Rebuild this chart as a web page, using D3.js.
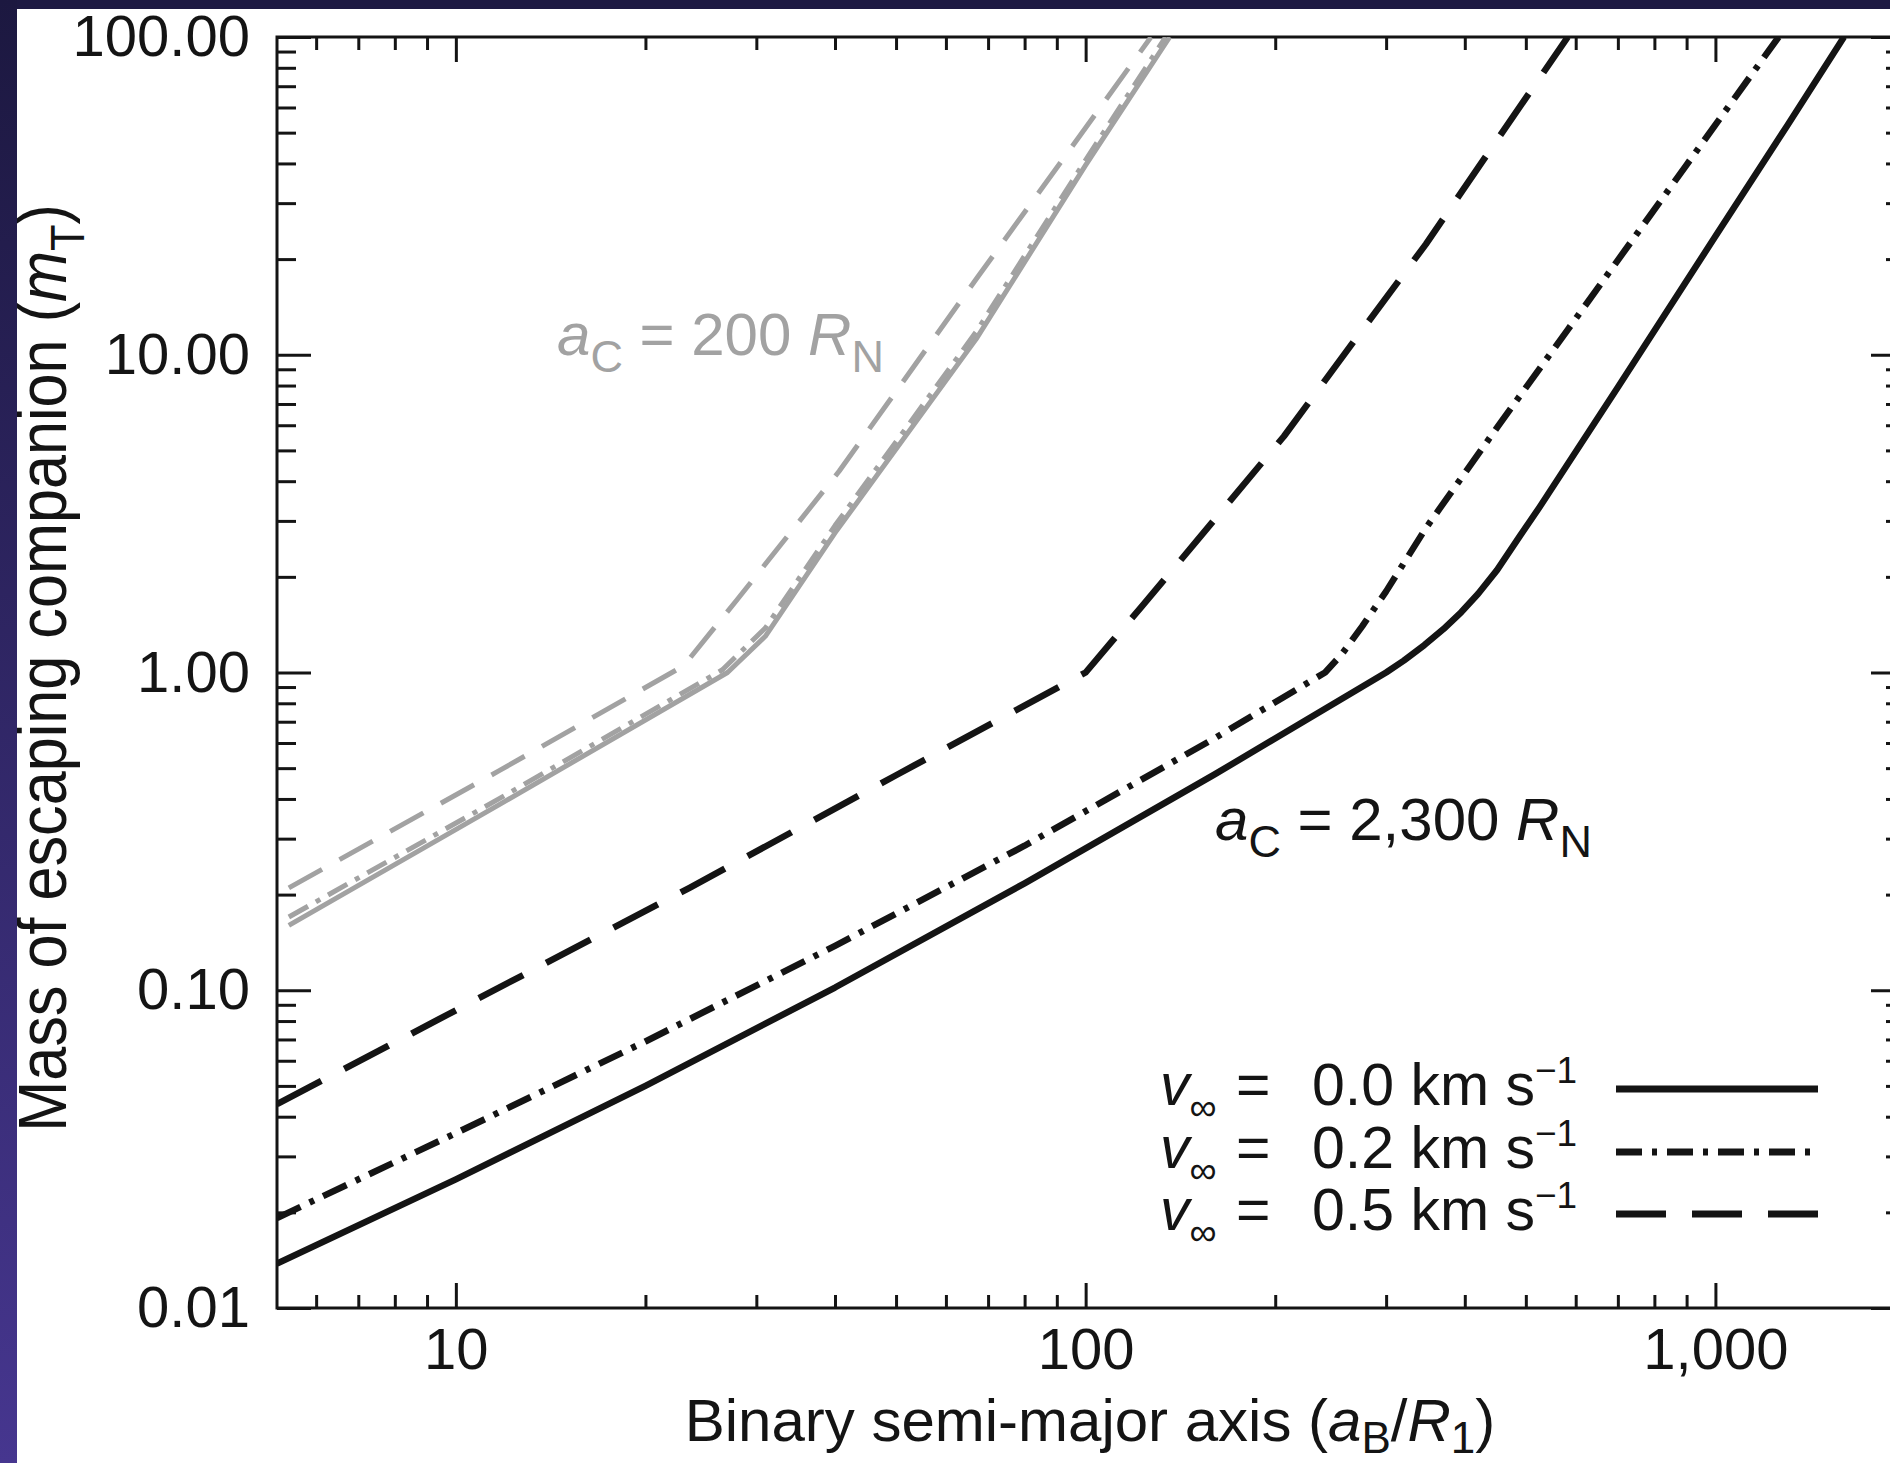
<!DOCTYPE html>
<html>
<head>
<meta charset="utf-8">
<script src="https://cdn.jsdelivr.net/npm/d3@7"></script>
<style>
  body { margin: 0; background: #ffffff; }
  svg { display: block; }
</style>
</head>
<body>
<div id="chart"></div>
<script>
// Axis ticks and labels
const xMajor = [10, 100, 1000];
const xMajorLabels = ["10", "100", "1,000"];
const xMinor = [6, 7, 8, 9, 20, 30, 40, 50, 60, 70, 80, 90, 200, 300, 400, 500, 600, 700, 800, 900, 2000];
const yMajor = [0.01, 0.1, 1, 10, 100];
const yMajorLabels = ["0.01", "0.10", "1.00", "10.00", "100.00"];
const yMinor = [0.02, 0.03, 0.04, 0.05, 0.06, 0.07, 0.08, 0.09, 0.2, 0.3, 0.4, 0.5, 0.6, 0.7, 0.8, 0.9,
                2, 3, 4, 5, 6, 7, 8, 9, 20, 30, 40, 50, 60, 70, 80, 90];

// a_C = 2,300 R_N curves: [a_B/R_1, m_T]
const v00Wide = [[5.2, 0.0138], [10, 0.0254], [20, 0.050], [40, 0.102], [80, 0.217], [160, 0.477],
                 [300, 1.0], [320, 1.09], [345, 1.22], [370, 1.37], [395, 1.55], [420, 1.77], [450, 2.1],
                 [490, 2.7], [525, 3.3], [700, 7.9], [1000, 23.6], [1300, 52.6], [1600, 100]];
const v02Wide = [[5.2, 0.0192], [10, 0.0355], [20, 0.069], [40, 0.138], [80, 0.285], [160, 0.62],
                 [240, 1.0], [255, 1.14], [275, 1.4], [300, 1.8], [347, 2.85], [450, 5.9], [583, 12],
                 [900, 39.6], [1260, 100]];
const v05Wide = [[5.2, 0.0438], [10, 0.0865], [23.5, 0.21], [50, 0.475], [100, 1.0], [110, 1.25],
                 [123, 1.62], [150, 2.59], [206.5, 5.54], [270, 11.4], [347, 22.3], [450, 47.4], [583, 100]];

// a_C = 200 R_N curves
const v00Close = [[5.43, 0.16], [11.7, 0.383], [27, 1.0], [31, 1.3], [40, 2.75], [67, 11.2], [100, 39.5], [136, 100]];
const v02Close = [[5.43, 0.17], [11.7, 0.40], [26.5, 1.02], [31, 1.38], [40, 2.9], [67, 11.8], [100, 41], [134, 100]];
const v05Close = [[5.43, 0.21], [11.7, 0.49], [23, 1.05], [28, 1.7], [40.6, 4.3], [67.3, 17.5], [95, 45], [127, 100]];

const legendSpeeds = ["0.0", "0.2", "0.5"];

const font = "'Liberation Sans', Arial, Helvetica, sans-serif";
const ink = "#141414";
const grey = "#a2a2a2";

const width = 1890, height = 1463;
const plot = { left: 277, right: 1905, top: 37, bottom: 1308 };

const svg = d3.select("#chart")
    .append("svg")
    .attr("width", width)
    .attr("height", height);

svg.append("rect")
    .attr("width", width)
    .attr("height", height)
    .attr("fill", "#ffffff");

// Scales
const x = d3.scaleLog()
    .domain([5.2, 2000])
    .range([plot.left, plot.right]);
const y = d3.scaleLog()
    .domain([0.01, 100])
    .range([plot.bottom, plot.top]);

svg.append("clipPath")
    .attr("id", "plot-clip")
    .append("rect")
    .attr("x", plot.left)
    .attr("y", plot.top)
    .attr("width", plot.right - plot.left)
    .attr("height", plot.bottom - plot.top);

// Helper for inward ticks
function addAxis(axis, transform, labels) {
    const g = svg.append("g")
        .attr("transform", transform)
        .call(axis);
    g.select(".domain").remove();
    g.selectAll("line").attr("stroke", ink).attr("stroke-width", 3);
    g.attr("font-family", font).attr("font-size", 58);
    g.selectAll("text").attr("fill", ink);
    if (!labels) g.selectAll("text").remove();
    return g;
}

// Left axis
addAxis(d3.axisLeft(y).tickValues(yMajor).tickSize(-34).tickPadding(27)
    .tickFormat((d, i) => yMajorLabels[i]), `translate(${plot.left},0)`, true);
addAxis(d3.axisLeft(y).tickValues(yMinor).tickSize(-19), `translate(${plot.left},0)`, false);
// Right axis
addAxis(d3.axisRight(y).tickValues(yMajor).tickSize(-34), `translate(${plot.right},0)`, false);
addAxis(d3.axisRight(y).tickValues(yMinor).tickSize(-19), `translate(${plot.right},0)`, false);
// Bottom axis
addAxis(d3.axisBottom(x).tickValues(xMajor).tickSize(-25).tickPadding(20)
    .tickFormat((d, i) => xMajorLabels[i]), `translate(0,${plot.bottom})`, true);
addAxis(d3.axisBottom(x).tickValues(xMinor).tickSize(-13), `translate(0,${plot.bottom})`, false);
// Top axis
addAxis(d3.axisTop(x).tickValues(xMajor).tickSize(-25), `translate(0,${plot.top})`, false);
addAxis(d3.axisTop(x).tickValues(xMinor).tickSize(-13), `translate(0,${plot.top})`, false);

// Frame
svg.append("rect")
    .attr("x", plot.left)
    .attr("y", plot.top)
    .attr("width", plot.right - plot.left)
    .attr("height", plot.bottom - plot.top)
    .attr("fill", "none")
    .attr("stroke", ink)
    .attr("stroke-width", 3);

// Lines
const line = d3.line()
    .x(d => x(d[0]))
    .y(d => y(d[1]));

const curves = [
    { data: v00Close, color: grey, width: 5, dash: null },
    { data: v02Close, color: grey, width: 5, dash: "22,9,5,9" },
    { data: v05Close, color: grey, width: 5, dash: "38,20" },
    { data: v00Wide, color: ink, width: 6.5, dash: null },
    { data: v02Wide, color: ink, width: 6.5, dash: "26,10,5,10" },
    { data: v05Wide, color: ink, width: 6.5, dash: "50,26" }
];

const curveGroup = svg.append("g").attr("clip-path", "url(#plot-clip)");
curves.forEach(c => {
    curveGroup.append("path")
        .datum(c.data)
        .attr("fill", "none")
        .attr("stroke", c.color)
        .attr("stroke-width", c.width)
        .attr("stroke-linejoin", "round")
        .attr("stroke-dasharray", c.dash)
        .attr("d", line);
});

// Curve annotations
function annotate(xPos, yPos, value, color) {
    const t = svg.append("text")
        .attr("x", xPos)
        .attr("y", yPos)
        .attr("font-family", font)
        .attr("font-size", 60)
        .attr("fill", color);
    t.append("tspan").attr("font-style", "italic").text("a");
    t.append("tspan").attr("font-size", 45).attr("dy", 17).text("C");
    t.append("tspan").attr("dy", -17).text(` = ${value} `);
    t.append("tspan").attr("font-style", "italic").text("R");
    t.append("tspan").attr("font-size", 45).attr("dy", 17).text("N");
}
annotate(557, 355, "200", grey);
annotate(1215, 840, "2,300", ink);

// Legend
const legendBase = [1105, 1168, 1230];
legendSpeeds.forEach((s, i) => {
    const t = svg.append("text")
        .attr("x", 1160)
        .attr("y", legendBase[i])
        .attr("font-family", font)
        .attr("font-size", 59)
        .attr("fill", ink);
    t.append("tspan").attr("font-style", "italic").text("v");
    t.append("tspan").attr("font-size", 38).attr("dy", 15).text("∞");
    t.append("tspan").attr("x", 1236).attr("dy", -15).text("=");
    t.append("tspan").attr("x", 1312).text(`${s} km s`);
    t.append("tspan").attr("font-size", 37).attr("dy", -22).text("−1");

    svg.append("line")
        .attr("x1", 1616)
        .attr("x2", 1818)
        .attr("y1", legendBase[i] - 16)
        .attr("y2", legendBase[i] - 16)
        .attr("stroke", ink)
        .attr("stroke-width", 7)
        .attr("stroke-dasharray", curves[3 + i].dash);
});

// X axis title
const xTitle = svg.append("text")
    .attr("x", 1090)
    .attr("y", 1441)
    .attr("text-anchor", "middle")
    .attr("font-family", font)
    .attr("font-size", 60)
    .attr("fill", ink);
xTitle.append("tspan").text("Binary semi-major axis (");
xTitle.append("tspan").attr("font-style", "italic").text("a");
xTitle.append("tspan").attr("font-size", 44).attr("dy", 12).text("B");
xTitle.append("tspan").attr("dy", -12).text("/");
xTitle.append("tspan").attr("font-style", "italic").text("R");
xTitle.append("tspan").attr("font-size", 44).attr("dy", 12).text("1");
xTitle.append("tspan").attr("dy", -12).text(")");

// Y axis title
const yTitle = svg.append("text")
    .attr("transform", "translate(66,668) rotate(-90) scale(0.9,1)")
    .attr("text-anchor", "middle")
    .attr("font-family", font)
    .attr("font-size", 68)
    .attr("fill", ink);
yTitle.append("tspan").text("Mass of escaping companion (");
yTitle.append("tspan").attr("font-style", "italic").text("m");
yTitle.append("tspan").attr("font-size", 48).attr("dy", 18).text("T");
yTitle.append("tspan").attr("dy", -18).text(")");

// Dark slide border on top and left
const grad = svg.append("defs").append("linearGradient")
    .attr("id", "band")
    .attr("x1", 0).attr("y1", 0).attr("x2", 0).attr("y2", 1);
grad.append("stop").attr("offset", "0%").attr("stop-color", "#1c1840");
grad.append("stop").attr("offset", "100%").attr("stop-color", "#46368f");

svg.append("rect")
    .attr("x", 0).attr("y", 0)
    .attr("width", width).attr("height", 9)
    .attr("fill", "#1d1942");
svg.append("rect")
    .attr("x", 0).attr("y", 0)
    .attr("width", 17).attr("height", height)
    .attr("fill", "url(#band)");
</script>
</body>
</html>
